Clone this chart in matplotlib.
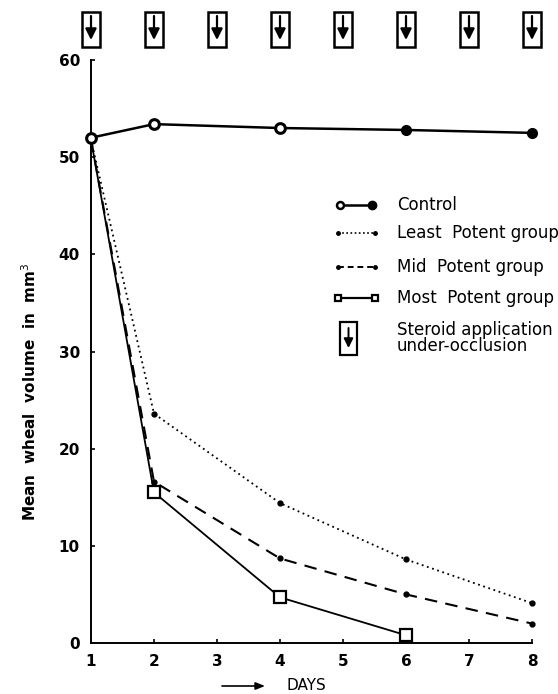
import matplotlib
matplotlib.use("Agg")
import matplotlib.pyplot as plt
from matplotlib.patches import Rectangle
from matplotlib.transforms import blended_transform_factory

plt.rcParams.update({
    "font.family": "DejaVu Sans",
    "font.size": 11,
})

# data
days = [1, 2, 4, 6, 8]
control = [52.0, 53.4, 53.0, 52.8, 52.5]
least_potent = [51.8, 23.6, 14.4, 8.6, 4.1]
mid_potent = [51.8, 16.6, 8.7, 5.0, 2.0]
most_days = [1, 2, 4, 6]
most_potent = [51.8, 15.5, 4.7, 0.8]
application_days = [1, 2, 3, 4, 5, 6, 7, 8]
x_ticks = [1, 2, 3, 4, 5, 6, 7, 8]
y_ticks = [0, 10, 20, 30, 40, 50, 60]

W, H = 558, 694
fig = plt.figure(figsize=(W / 100, H / 100), dpi=100)
ax = fig.add_axes([91 / W, 1 - 643 / H, 441 / W, 583 / H])


def fx(x):
    return x / W


def fy(y):
    return 1 - y / H


# series (day-1 start is shared, marker only shown for control)
ax.plot(days, least_potent, color="k", lw=1.3, ls=(0, (1, 2)),
        marker="o", ms=3.5, markevery=slice(1, None), clip_on=False, zorder=3)
ax.plot(days, mid_potent, color="k", lw=1.5, ls=(0, (6, 4)),
        marker="o", ms=3.5, markevery=slice(1, None), clip_on=False, zorder=3)
ax.plot(most_days, most_potent, color="k", lw=1.3, marker="s", ms=8,
        mfc="white", mew=1.6, markevery=slice(1, None), clip_on=False, zorder=4)
ax.plot(days, control, color="k", lw=1.8, clip_on=False, zorder=5)
ax.plot(days[:3], control[:3], ls="none", marker="o", ms=7, mfc="white",
        mec="k", mew=2.2, clip_on=False, zorder=6)
ax.plot(days[3:], control[3:], ls="none", marker="o", ms=7, color="k",
        clip_on=False, zorder=6)

ax.set_xlim(1, 8)
ax.set_ylim(0, 60)
ax.set_xticks(x_ticks)
ax.set_yticks(y_ticks)
ax.tick_params(direction="in", length=3, width=1.2, labelsize=11, pad=8)
for lab in ax.get_xticklabels() + ax.get_yticklabels():
    lab.set_fontweight("bold")
for s in ["top", "right"]:
    ax.spines[s].set_visible(False)
for s in ["left", "bottom"]:
    ax.spines[s].set_linewidth(1.4)

# steroid application boxes along the top
bt = blended_transform_factory(ax.transData, fig.transFigure)
for d in application_days:
    ax.add_patch(Rectangle((d - 0.14, fy(47)), 0.28, 35 / H, transform=bt,
                           fill=False, lw=1.8, ec="k", clip_on=False))
    ax.annotate("", xy=(d, fy(40)), xytext=(d, fy(16)), xycoords=bt,
                textcoords=bt,
                arrowprops=dict(arrowstyle="-|>,head_length=0.6,head_width=0.3",
                                lw=1.6, color="k", shrinkA=0, shrinkB=0))

# legend drawn by hand
tf = fig.transFigure
ax.plot([fx(340), fx(372)], [fy(205), fy(205)], transform=tf, color="k",
        lw=1.8, clip_on=False)
ax.plot([fx(340)], [fy(205)], transform=tf, marker="o", ms=5, mfc="white",
        mec="k", mew=1.8, clip_on=False)
ax.plot([fx(372)], [fy(205)], transform=tf, marker="o", ms=6, color="k",
        clip_on=False)
ax.plot([fx(338), fx(375)], [fy(233), fy(233)], transform=tf, color="k",
        lw=1.2, ls=(0, (1, 1.5)), marker="o", ms=2.5, clip_on=False)
ax.plot([fx(338), fx(375)], [fy(267), fy(267)], transform=tf, color="k",
        lw=1.4, ls=(0, (3, 2)), marker="o", ms=2.5, clip_on=False)
ax.plot([fx(338), fx(375)], [fy(298), fy(298)], transform=tf, color="k",
        lw=1.6, marker="s", ms=4.5, mfc="white", mew=1.6, clip_on=False)
fig.add_artist(Rectangle((fx(340), fy(355)), 17 / W, 33 / H, transform=tf,
                         fill=False, lw=1.6, ec="k"))
ax.annotate("", xy=(fx(348.5), fy(348)), xytext=(fx(348.5), fy(328)),
            xycoords=tf, textcoords=tf,
            arrowprops=dict(arrowstyle="-|>,head_length=0.5,head_width=0.25",
                            lw=1.4, color="k", shrinkA=0, shrinkB=0))

leg_texts = ["Control", "Least  Potent group", "Mid  Potent group",
             "Most  Potent group"]
leg_y = [205, 233, 267, 298]
for t, y in zip(leg_texts, leg_y):
    fig.text(fx(397), fy(y), t, fontsize=12, fontweight="medium", va="center")
fig.text(fx(397), fy(338), "Steroid application\nunder-occlusion", fontsize=12,
         va="center", linespacing=0.85)

# axis labels
fig.text(fx(30), fy(392), "Mean  wheal  volume  in  mm$^3$", rotation=90,
         ha="center", va="center", fontsize=11, fontweight="bold")
ax.annotate("", xy=(fx(265), fy(686)), xytext=(fx(222), fy(686)),
            xycoords=tf, textcoords=tf,
            arrowprops=dict(arrowstyle="-|>,head_length=0.5,head_width=0.2",
                            lw=1.2, color="k", shrinkA=0, shrinkB=0))
fig.text(fx(286), fy(686), "DAYS", fontsize=11, va="center")

fig.savefig("out.png", dpi=100)
